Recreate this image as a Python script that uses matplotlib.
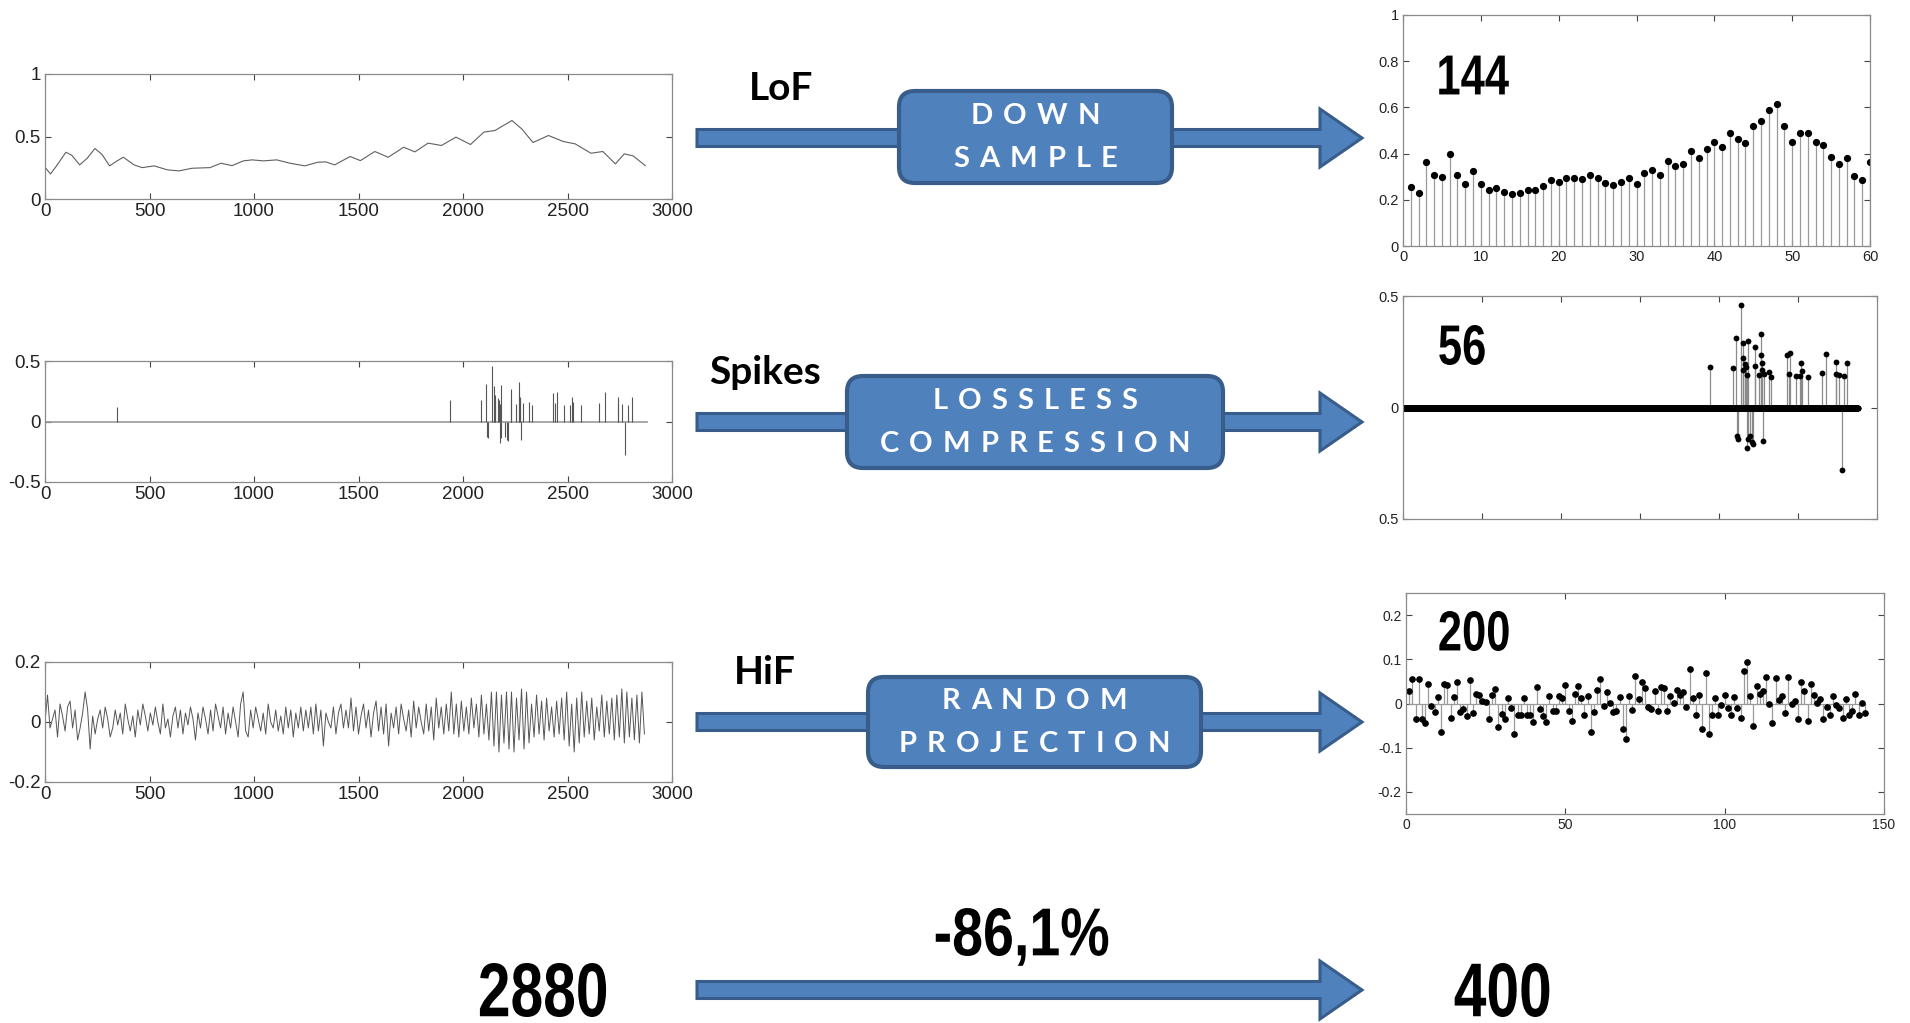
import numpy as np
import matplotlib
matplotlib.use("Agg")
import matplotlib.pyplot as plt
import matplotlib.transforms as mtransforms
from matplotlib.patches import Polygon, FancyBboxPatch, PathPatch
from matplotlib.textpath import TextPath
from matplotlib.font_manager import FontProperties
from matplotlib.ticker import FormatStrFormatter

# ---- data ----
# LoF (low frequency) signal, left top
lof_x = [0, 26, 53, 100, 128, 166, 202, 239, 273, 309, 345, 375, 426, 465, 522, 586,
         640, 704, 789, 842, 895, 949, 991, 1045, 1109, 1173, 1243, 1305, 1343, 1386,
         1460, 1509, 1578, 1642, 1716, 1770, 1833, 1897, 1966, 2036, 2100, 2153, 2234,
         2281, 2335, 2409, 2480, 2537, 2612, 2669, 2729, 2772, 2814, 2872]
lof_y = [0.254, 0.20, 0.26, 0.374, 0.35, 0.273, 0.326, 0.404, 0.356, 0.265, 0.305,
         0.334, 0.273, 0.251, 0.265, 0.233, 0.225, 0.246, 0.251, 0.286, 0.267, 0.305,
         0.313, 0.305, 0.313, 0.286, 0.265, 0.294, 0.297, 0.273, 0.34, 0.307, 0.38,
         0.334, 0.414, 0.377, 0.447, 0.428, 0.495, 0.436, 0.535, 0.548, 0.628, 0.561,
         0.452, 0.508, 0.46, 0.441, 0.366, 0.38, 0.281, 0.361, 0.345, 0.267]

# spikes (sparse part)
spike_pos = [1940, 2086, 2108, 2117, 2119, 2141, 2150, 2152, 2154, 2167, 2173, 2175,
             2177, 2182, 2184, 2199, 2210, 2215, 2228, 2230, 2253, 2266, 2268, 2273,
             2275, 2278, 2286, 2315, 2330, 2432, 2441, 2450, 2485, 2510, 2521, 2525,
             2565, 2649, 2678, 2740, 2742, 2760, 2777, 2788, 2808]
spike_val = [0.18, 0.175, 0.31, -0.13, -0.14, 0.46, 0.29, 0.22, 0.17, 0.195, 0.18,
             0.145, -0.18, 0.30, -0.14, -0.13, -0.155, -0.165, 0.27, 0.185, 0.145,
             0.33, 0.235, 0.20, 0.17, -0.15, 0.15, 0.16, 0.135, 0.235, 0.15, 0.245,
             0.14, 0.14, 0.20, 0.165, 0.135, 0.155, 0.24, 0.205, 0.15, 0.145, -0.28,
             0.14, 0.20]
early_spike_pos = [346]
early_spike_val = [0.12]
n_samples = 2880

# HiF (high frequency) signal, every 12th sample
hif_step = 12
hif_y = [
    0.0, 0.09, -0.02, 0.01, 0.04, -0.05, 0.06, 0.02, -0.03, 0.05, 0.07, -0.02, 0.04, -0.06, -0.02, 0.03, 0.1, 0.04, -0.09, 0.02,
    -0.04, 0.01, 0.04, -0.02, 0.05, 0.01, -0.05, -0.02, 0.04, -0.01, 0.03, -0.04, 0.06, 0.01, -0.03, 0.02, -0.05, 0.04, -0.01, 0.06,
    0.02, -0.03, 0.03, -0.01, 0.05, 0.0, -0.04, 0.06, -0.02, 0.01, -0.05, 0.02, 0.05, -0.02, 0.04, -0.04, 0.03, -0.01, 0.05, 0.01,
    -0.06, 0.03, -0.02, 0.05, 0.01, -0.04, 0.04, -0.03, 0.06, 0.02, -0.02, 0.05, -0.04, 0.03, -0.02, 0.05, 0.0, -0.05, 0.06, 0.1,
    -0.03, -0.05, 0.04, -0.02, 0.05, 0.01, -0.03, 0.03, -0.04, 0.06, 0.0, -0.02, 0.04, -0.03, 0.02, -0.04, 0.05, -0.02, 0.04, -0.05,
    0.03, -0.02, 0.05, -0.03, 0.04, -0.02, 0.05, -0.04, 0.06, -0.03, 0.04, -0.08, 0.03, 0.0, -0.02, 0.05, -0.04, 0.03, 0.06, -0.02,
    0.04, -0.02, 0.08, -0.03, 0.05, -0.04, 0.02, 0.06, -0.02, 0.04, -0.05, 0.03, 0.07, -0.03, 0.05, -0.04, 0.06, -0.08, 0.03, -0.02,
    0.05, -0.04, 0.06, 0.01, -0.03, 0.04, -0.05, 0.07, -0.02, 0.05, 0.0, -0.04, 0.06, -0.03, 0.05, -0.06, 0.08, -0.02, 0.05, -0.04,
    0.06, -0.03, 0.1, -0.04, 0.06, -0.05, 0.07, -0.03, 0.05, -0.04, 0.08, -0.02, 0.06, -0.05, 0.09, -0.04, 0.06, -0.06, 0.1, -0.08,
    0.1, -0.1, 0.09, -0.07, 0.1, -0.09, 0.1, -0.1, 0.08, -0.06, 0.11, -0.09, 0.1, -0.07, 0.06, -0.05, 0.09, -0.04, 0.07, -0.06,
    0.08, -0.03, 0.05, -0.05, 0.07, -0.04, 0.08, -0.06, 0.1, -0.08, 0.06, -0.1, 0.08, -0.07, 0.1, -0.05, 0.07, -0.04, 0.08, -0.06,
    0.05, -0.03, 0.09, -0.05, 0.07, -0.04, 0.08, -0.06, 0.09, -0.05, 0.11, -0.07, 0.1, -0.05, 0.08, -0.06, 0.09, -0.07, 0.1, -0.04,
]

# down sampled LoF (60 values)
lof_ds = [0.254, 0.231, 0.365, 0.306, 0.300, 0.400, 0.306, 0.270, 0.325, 0.270,
          0.244, 0.253, 0.234, 0.224, 0.229, 0.244, 0.244, 0.261, 0.286, 0.276,
          0.293, 0.293, 0.290, 0.309, 0.293, 0.274, 0.264, 0.278, 0.293, 0.270,
          0.315, 0.329, 0.309, 0.369, 0.345, 0.354, 0.410, 0.380, 0.420, 0.449,
          0.430, 0.489, 0.465, 0.444, 0.519, 0.540, 0.589, 0.613, 0.520, 0.449,
          0.489, 0.489, 0.449, 0.439, 0.385, 0.354, 0.380, 0.305, 0.284, 0.364]

# random projection of HiF (144 values)
hif_rp = [0.028, 0.055, -0.034, 0.055, -0.036, -0.044, 0.043, -0.006, -0.019, 0.015,
          -0.065, 0.044, 0.042, -0.032, 0.015, 0.049, -0.019, -0.013, -0.028, 0.053,
          -0.021, 0.022, 0.020, 0.006, 0.004, -0.034, 0.020, 0.032, -0.053, -0.024,
          -0.036, 0.013, -0.011, -0.068, -0.027, -0.025, 0.013, -0.026, -0.026, -0.041,
          0.037, -0.013, -0.029, -0.041, 0.016, -0.017, -0.017, 0.018, 0.013, 0.042,
          -0.017, -0.039, 0.021, 0.039, 0.013, -0.027, 0.018, -0.065, -0.020, 0.031,
          0.055, -0.006, 0.026, 0.002, -0.019, -0.016, 0.015, -0.058, -0.081, 0.018,
          -0.014, 0.062, 0.011, 0.049, 0.034, -0.008, -0.012, 0.028, -0.017, 0.037,
          0.035, -0.017, 0.016, 0.002, 0.030, 0.020, 0.025, -0.008, 0.079, 0.013,
          -0.025, 0.020, -0.058, 0.070, -0.069, -0.027, 0.013, -0.027, -0.004, 0.020,
          -0.010, -0.027, 0.015, -0.010, -0.032, 0.074, 0.094, 0.018, -0.050, 0.039,
          0.022, 0.028, 0.060, -0.001, -0.044, 0.058, 0.007, 0.018, -0.021, 0.060,
          -0.002, 0.006, -0.034, 0.049, 0.028, -0.039, 0.044, 0.020, 0.002, 0.011,
          -0.034, -0.008, -0.025, 0.018, -0.004, -0.011, -0.032, 0.011, -0.027, -0.017,
          0.022, -0.025, 0.002, -0.021]

# labels
count_labels = ["144", "56", "200"]
branch_labels = ["LoF", "Spikes", "HiF"]
box_lines = [["DOWN", "SAMPLE"], ["LOSSLESS", "COMPRESSION"], ["RANDOM", "PROJECTION"]]
total_in, total_out, reduction = "2880", "400", "-86,1%"

# ---- figure ----
W, H = 1910, 1023
fig = plt.figure(figsize=(W / 100, H / 100), dpi=100)
fig.patch.set_facecolor("white")

tick_font = ["Liberation Sans", "DejaVu Sans"]


def px_axes(x0, y0, x1, y1):
    # axes placed by pixel box (top-left origin)
    return fig.add_axes([x0 / W, 1 - y1 / H, (x1 - x0) / W, (y1 - y0) / H])


def matlab_style(ax, size):
    for s in ax.spines.values():
        s.set_color("#8a8a8a")
        s.set_linewidth(0.9)
    ax.tick_params(direction="in", top=True, right=True, length=4, width=0.8,
                   color="#444444", labelsize=size, labelcolor="#222222", pad=3)
    for lab in ax.get_xticklabels() + ax.get_yticklabels():
        lab.set_family(tick_font)


line_c = "#555555"

# left 1: LoF
ax = px_axes(45, 74, 672, 199)
ax.plot(lof_x, lof_y, color="#606060", lw=0.8)
ax.set_xlim(0, 3000)
ax.set_ylim(0, 1)
ax.set_xticks(np.arange(0, 3001, 500))
ax.set_yticks([0, 0.5, 1])
ax.yaxis.set_major_formatter(FormatStrFormatter("%g"))
matlab_style(ax, 13.5)

# left 2: spikes
ax = px_axes(45, 361, 672, 482)
ax.plot([0, n_samples], [0, 0], color="#9a9a9a", lw=1.2)
ax.vlines(spike_pos + early_spike_pos, 0, spike_val + early_spike_val, color=line_c, lw=0.8)
ax.set_xlim(0, 3000)
ax.set_ylim(-0.5, 0.5)
ax.set_xticks(np.arange(0, 3001, 500))
ax.set_yticks([-0.5, 0, 0.5])
ax.yaxis.set_major_formatter(FormatStrFormatter("%g"))
matlab_style(ax, 13.5)

# left 3: HiF
ax = px_axes(45, 662, 672, 782)
hif_x = np.arange(len(hif_y)) * hif_step
ax.plot(hif_x, hif_y, color="#555555", lw=0.7)
ax.set_xlim(0, 3000)
ax.set_ylim(-0.2, 0.2)
ax.set_xticks(np.arange(0, 3001, 500))
ax.set_yticks([-0.2, 0, 0.2])
ax.yaxis.set_major_formatter(FormatStrFormatter("%g"))
matlab_style(ax, 13.5)

stem_c = "#9a9a9a"

# right 1: down sampled
ax = px_axes(1403, 15, 1870, 246)
xs = np.arange(1, len(lof_ds) + 1)
ax.vlines(xs, 0, lof_ds, color=stem_c, lw=0.9)
ax.plot(xs, lof_ds, "o", color="black", ms=4.2)
ax.set_xlim(0, 60)
ax.set_ylim(0, 1)
ax.set_xticks(np.arange(0, 61, 10))
ax.set_yticks(np.arange(0, 1.01, 0.2))
ax.yaxis.set_major_formatter(FormatStrFormatter("%g"))
matlab_style(ax, 10.5)

# right 2: lossless compression of spikes
ax = px_axes(1403, 296, 1877, 519)
sig = np.zeros(n_samples)
sig[spike_pos] = spike_val
nz = np.nonzero(sig)[0]
ax.vlines(nz, 0, sig[nz], color="#8a8a8a", lw=0.9)
ax.plot(np.arange(n_samples), sig, "o", color="black", ms=4.2, mew=0)
ax.set_xlim(0, 3000)
ax.set_ylim(-0.5, 0.5)
ax.set_xticks(np.arange(0, 3001, 500))
ax.set_xticklabels([])
ax.set_yticks([-0.5, 0, 0.5])
ax.set_yticklabels(["0.5", "0", "0.5"])
matlab_style(ax, 10.5)

# right 3: random projection
ax = px_axes(1406, 593, 1884, 814)
xs = np.arange(1, len(hif_rp) + 1)
ax.plot([xs[0], xs[-1]], [0, 0], color=stem_c, lw=0.9)
ax.vlines(xs, 0, hif_rp, color=stem_c, lw=0.9)
ax.plot(xs, hif_rp, "o", color="black", ms=3.8)
ax.set_xlim(0, 150)
ax.set_ylim(-0.25, 0.25)
ax.set_xticks([0, 50, 100, 150])
ax.set_yticks([-0.2, -0.1, 0, 0.1, 0.2])
ax.yaxis.set_major_formatter(FormatStrFormatter("%g"))
matlab_style(ax, 10)

# ---- overlay: arrows, boxes, labels (pixel coordinates) ----
ov = fig.add_axes([0, 0, 1, 1])
ov.set_xlim(0, W)
ov.set_ylim(H, 0)
ov.axis("off")

blue, blue_dark = "#4F81BD", "#385D8A"


def arrow(y, x0=697, xh=1320, xt=1362, half=8.5, head=29):
    pts = [(x0, y - half), (xh, y - half), (xh, y - head), (xt, y),
           (xh, y + head), (xh, y + half), (x0, y + half)]
    ov.add_patch(Polygon(pts, closed=True, fc=blue, ec=blue_dark, lw=2.2, zorder=2))


renderer = fig.canvas.get_renderer()


def spaced(cx, cy, word, size=21, gap=10):
    ts = [ov.text(0, cy, ch, color="white", fontsize=size, fontweight="bold",
                  family=["Lato", "DejaVu Sans"], ha="center", va="center", zorder=4)
          for ch in word]
    ws = [t.get_window_extent(renderer).width for t in ts]
    x = cx - (sum(ws) + gap * (len(ws) - 1)) / 2
    for t, w in zip(ts, ws):
        t.set_x(x + w / 2)
        x += w + gap


bold_fp = FontProperties(family=["Liberation Sans", "DejaVu Sans"], weight="bold")
digit_box = TextPath((0, 0), "8", size=1, prop=bold_fp).get_extents()


def narrow(cx, cy, s, cap, squeeze=0.77):
    # condensed bold numbers (Arial Narrow look), drawn as glyph paths
    tp = TextPath((0, 0), s, size=1, prop=bold_fp)
    bb = tp.get_extents()
    sy = cap / digit_box.height
    tr = (mtransforms.Affine2D()
          .translate(-(bb.x0 + bb.x1) / 2, -(digit_box.y0 + digit_box.y1) / 2)
          .scale(sy * squeeze, -sy)
          .translate(cx, cy))
    ov.add_patch(PathPatch(tr.transform_path(tp), fc="black", ec="none", zorder=6))


arrow_y = [138, 422, 722]
boxes = [(899, 91, 1172, 183), (847, 376, 1223, 468), (868, 677, 1201, 767)]
label_y = [88, 372, 672]
count_xy = [(1474, 75), (1462, 345), (1474, 631)]

for i in range(3):
    arrow(arrow_y[i])
    x0, y0, x1, y1 = boxes[i]
    ov.add_patch(FancyBboxPatch((x0, y0), x1 - x0, y1 - y0,
                                boxstyle="round,pad=0,rounding_size=16",
                                fc=blue, ec=blue_dark, lw=3, zorder=3))
    cy = (y0 + y1) / 2
    spaced((x0 + x1) / 2, cy - 21, box_lines[i][0])
    spaced((x0 + x1) / 2, cy + 22, box_lines[i][1])
    ov.text(765 if i else 781, label_y[i], branch_labels[i], fontsize=28,
            fontweight="bold", family=["Lato", "DejaVu Sans"], ha="center",
            va="center", zorder=4)
    narrow(count_xy[i][0], count_xy[i][1], count_labels[i], 40)

# bottom summary
arrow(990)
narrow(543, 990, total_in, 54)
narrow(1502, 990, total_out, 54)
narrow(1022, 932, reduction, 48, squeeze=0.82)

fig.savefig("out.png", dpi=100, facecolor="white")
